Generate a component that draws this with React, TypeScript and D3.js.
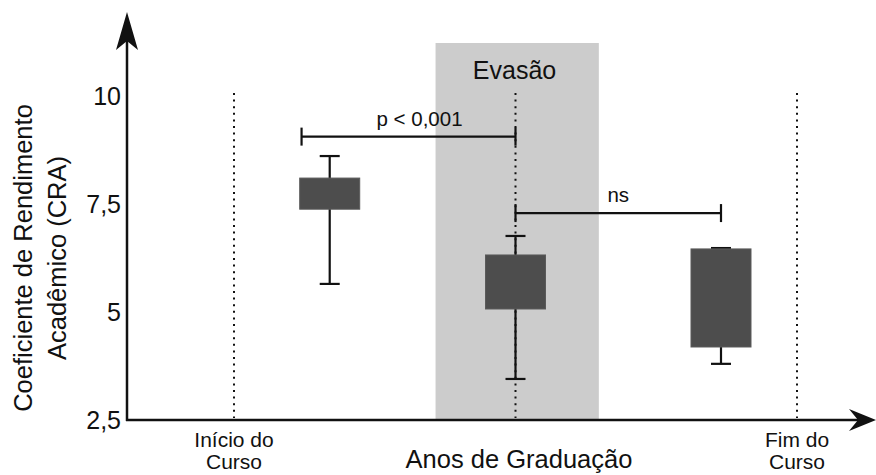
import * as d3 from 'd3';

// valores (CRA)
const yTicks = [2.5, 5, 7.5, 10];
const yTickLabels = ['2,5', '5', '7,5', '10'];

// posições no eixo de graduação (0 = início, 100 = fim)
const markerPos = [0, 50, 100];
const markerLabels = [['Início do', 'Curso'], null, ['Fim do', 'Curso']];

const boxPos = [17, 50, 86.5];
const boxMin = [5.65, 3.45, 3.8];
const boxQ1 = [7.38, 5.07, 4.19];
const boxQ3 = [8.1, 6.32, 6.46];
const boxMax = [8.61, 6.76, 6.48];

const bandRange = [35.8, 64.8];
const bandLabel = 'Evasão';

const sigFrom = [12, 50];
const sigTo = [50, 86.5];
const sigLevel = [9.06, 7.29];
const sigLabels = ['p < 0,001', 'ns'];

const W = 876;
const H = 475;
const FONT = '"Liberation Sans", Arial, Helvetica, sans-serif';

export default function App() {
  const x = d3.scaleLinear().domain([0, 100]).range([234, 797]);
  const y = d3.scaleLinear().domain([2.5, 10]).range([420, 96]);

  const axisX = 127;
  const axisY = y(2.5);
  const boxW = 60;
  const capW = 20;

  return (
    <svg
      width={W}
      height={H}
      viewBox={`0 0 ${W} ${H}`}
      style={{ position: 'fixed', left: 0, top: 0, background: '#fff' }}
      fontFamily={FONT}
    >
      {/* faixa de evasão */}
      <rect
        x={x(bandRange[0])}
        y={43}
        width={x(bandRange[1]) - x(bandRange[0])}
        height={axisY - 43}
        fill="#cccccc"
      />
      <text x={x(50) - 1} y={79} textAnchor="middle" fontSize={25} fill="#111">
        {bandLabel}
      </text>

      {/* linhas pontilhadas */}
      {markerPos.map((p, i) => (
        <line
          key={'m' + i}
          x1={x(p)}
          x2={x(p)}
          y1={y(10) - 3}
          y2={axisY - 2}
          stroke="#111"
          strokeWidth={2}
          strokeDasharray="2,4.6"
        />
      ))}

      {/* boxplots */}
      {boxPos.map((p, i) => {
        const cx = x(p);
        return (
          <g key={'b' + i}>
            <line x1={cx} x2={cx} y1={y(boxMax[i])} y2={y(boxMin[i])} stroke="#111" strokeWidth={2.2} />
            <line x1={cx - capW / 2} x2={cx + capW / 2} y1={y(boxMax[i])} y2={y(boxMax[i])} stroke="#111" strokeWidth={2.2} />
            <line x1={cx - capW / 2} x2={cx + capW / 2} y1={y(boxMin[i])} y2={y(boxMin[i])} stroke="#111" strokeWidth={2.2} />
            <rect
              x={cx - boxW / 2}
              y={y(boxQ3[i])}
              width={boxW}
              height={y(boxQ1[i]) - y(boxQ3[i])}
              fill="#4d4d4d"
              stroke="#5a5a5a"
              strokeWidth={1}
            />
          </g>
        );
      })}

      {/* colchetes de significância */}
      {sigLevel.map((v, i) => {
        const x1 = x(sigFrom[i]);
        const x2 = x(sigTo[i]);
        const yy = y(v);
        return (
          <g key={'s' + i} stroke="#111" strokeWidth={2.2}>
            <line x1={x1} x2={x2} y1={yy} y2={yy} />
            <line x1={x1} x2={x1} y1={yy - 9} y2={yy + 9} />
            <line x1={x2} x2={x2} y1={yy - 9} y2={yy + 9} />
            <text
              x={(x1 + x2) / 2 + (i === 0 ? 11 : 0)}
              y={yy - 11}
              textAnchor="middle"
              fontSize={20.5}
              fill="#111"
              stroke="none"
            >
              {sigLabels[i]}
            </text>
          </g>
        );
      })}

      {/* eixos */}
      <line x1={axisX} x2={axisX} y1={axisY + 1} y2={40} stroke="#111" strokeWidth={2.5} />
      <path
        d={`M${axisX},12 L${axisX + 11},50 L${axisX},41 L${axisX - 11},50 Z`}
        fill="#111"
      />
      <line x1={axisX - 1} x2={860} y1={axisY} y2={axisY} stroke="#111" strokeWidth={2.5} />
      <path
        d={`M876,${axisY} L849,${axisY - 11} L858,${axisY} L849,${axisY + 11} Z`}
        fill="#111"
      />

      {yTicks.map((t, i) => (
        <text
          key={'t' + i}
          x={121}
          y={y(t)}
          dy="0.36em"
          textAnchor="end"
          fontSize={25}
          fill="#111"
        >
          {yTickLabels[i]}
        </text>
      ))}

      {markerLabels.map((lab, i) =>
        lab ? (
          <text key={'l' + i} textAnchor="middle" fontSize={21} fill="#111">
            <tspan x={x(markerPos[i])} y={447}>{lab[0]}</tspan>
            <tspan x={x(markerPos[i])} y={469}>{lab[1]}</tspan>
          </text>
        ) : null
      )}

      <text x={519} y={468} textAnchor="middle" fontSize={25.5} fill="#111">
        Anos de Graduação
      </text>

      <text transform="translate(0,258) rotate(-90)" textAnchor="middle" fontSize={25.5} fill="#111">
        <tspan x={0} y={32}>Coeficiente de Rendimento</tspan>
        <tspan x={0} y={66}>Acadêmico (CRA)</tspan>
      </text>
    </svg>
  );
}
